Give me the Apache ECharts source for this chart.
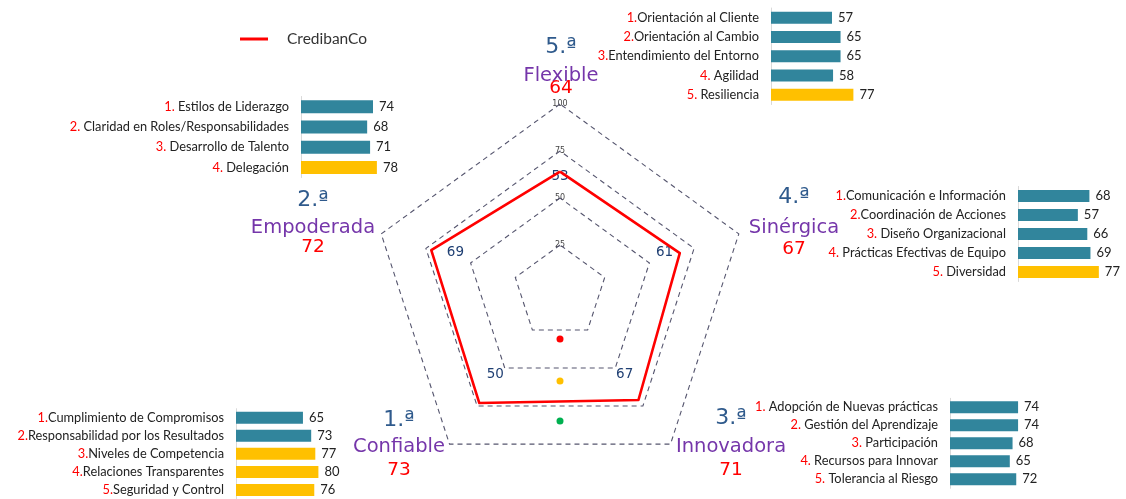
<!DOCTYPE html>
<html>
<head>
<meta charset="utf-8">
<script src="https://cdn.jsdelivr.net/npm/echarts@6/dist/echarts.min.js"></script>
<style>
  html, body { margin: 0; padding: 0; background: #ffffff; }
  #chart { width: 1126px; height: 499px; }
</style>
</head>
<body>
<div id="chart"></div>
<script>
// Radar dimensions, in the order ECharts lays them out (top, then counter-clockwise)
const dimensions = ['Flexible', 'Empoderada', 'Confiable', 'Innovadora', 'Sinérgica'];
const ordinals = ['5.ª', '2.ª', '1.ª', '3.ª', '4.ª'];
const scores = [64, 72, 73, 71, 67];          // CredibanCo
const reference = [53, 69, 50, 67, 61];       // reference figures shown inside the radar
const ringLabels = ['100', '75', '50', '25'];

// Sub-dimension bars for each dimension
const flexibleItems = ['1.Orientación al Cliente', '2.Orientación al Cambio', '3.Entendimiento del Entorno', '4. Agilidad', '5. Resiliencia'];
const flexibleValues = [57, 65, 65, 58, 77];

const empoderadaItems = ['1. Estilos de Liderazgo', '2. Claridad en Roles/Responsabilidades', '3. Desarrollo de Talento', '4. Delegación'];
const empoderadaValues = [74, 68, 71, 78];

const sinergicaItems = ['1.Comunicación e Información', '2.Coordinación de Acciones', '3. Diseño Organizacional', '4. Prácticas Efectivas de Equipo', '5. Diversidad'];
const sinergicaValues = [68, 57, 66, 69, 77];

const confiableItems = ['1.Cumplimiento de Compromisos', '2.Responsabilidad por los Resultados', '3.Niveles de Competencia', '4.Relaciones Transparentes', '5.Seguridad y Control'];
const confiableValues = [65, 73, 77, 80, 76];

const innovadoraItems = ['1. Adopción de Nuevas prácticas', '2. Gestión del Aprendizaje', '3. Participación', '4. Recursos para Innovar', '5. Tolerancia al Riesgo'];
const innovadoraValues = [74, 74, 68, 65, 72];

const TEAL = '#31859C';
const GOLD = '#FFC000';
const HIGHLIGHT_FROM = 75;

const chart = echarts.init(document.getElementById('chart'));

const RADAR_CENTER = [560, 292];
const RADAR_RADIUS = 188;

// bar blocks: grid placement for each dimension's breakdown
const blocks = [
  { items: flexibleItems,   values: flexibleValues,   left: 771,  top: 8,     height: 96.5, width: 107,  barWidth: 12 },
  { items: empoderadaItems, values: empoderadaValues, left: 301,  top: 96.5,  height: 81,   width: 97.3, barWidth: 13 },
  { items: sinergicaItems,  values: sinergicaValues,  left: 1018, top: 186.5, height: 95,   width: 105,  barWidth: 12 },
  { items: confiableItems,  values: confiableValues,  left: 236,  top: 408.7, height: 92.5, width: 103,  barWidth: 12 },
  { items: innovadoraItems, values: innovadoraValues, left: 950,  top: 398.3, height: 90,   width: 92,   barWidth: 12 }
];

const labelFont = 'Lato, "Liberation Sans", Arial, sans-serif';

const grids = [], xAxes = [], yAxes = [], barSeries = [];
blocks.forEach((b, i) => {
  grids.push({ left: b.left, top: b.top, width: b.width, height: b.height, containLabel: false });
  xAxes.push({ gridIndex: i, type: 'value', min: 0, max: 100, show: false });
  yAxes.push({
    gridIndex: i, type: 'category', inverse: true, data: b.items,
    axisLine: { show: true, lineStyle: { color: '#d9d9d9', width: 1 } },
    axisTick: { show: false },
    axisLabel: {
      margin: 12,
      formatter: function (s) {
        const m = s.match(/^(\d+\.)(.*)$/);
        return '{n|' + m[1] + '}{t|' + m[2] + '}';
      },
      rich: {
        n: { color: '#ff0000', fontSize: 12.8, fontFamily: labelFont },
        t: { color: '#222222', fontSize: 12.8, fontFamily: labelFont }
      }
    }
  });
  barSeries.push({
    type: 'bar', xAxisIndex: i, yAxisIndex: i, data: b.values, barWidth: b.barWidth,
    itemStyle: { color: p => (p.value >= HIGHLIGHT_FROM ? GOLD : TEAL) },
    label: { show: true, position: 'right', distance: 6, color: '#222222', fontSize: 13, fontFamily: labelFont },
    silent: true, animation: false
  });
});

// text placed around the radar: ordinal, dimension name, score
const namePlacement = [
  { x: 561, y: [47, 76, 88.5] },
  { x: 313, y: [200, 228, 247] },
  { x: 399, y: [420, 447, 470.5] },
  { x: 731, y: [418, 447, 470.5] },
  { x: 794, y: [197, 228, 249] }
];
const graphics = [];
dimensions.forEach((d, i) => {
  const p = namePlacement[i];
  graphics.push(
    { type: 'text', x: p.x, y: p.y[0], style: { text: ordinals[i], fill: '#2F5A8C', font: '22px "DejaVu Sans"', textAlign: 'center', textVerticalAlign: 'middle' } },
    { type: 'text', x: p.x, y: p.y[1], style: { text: d, fill: '#7536AA', font: '19.5px "DejaVu Sans"', textAlign: 'center', textVerticalAlign: 'middle' } },
    { type: 'text', x: p.x, y: p.y[2], style: { text: String(scores[i]), fill: '#ff0000', font: '18.5px "DejaVu Sans"', textAlign: 'center', textVerticalAlign: 'middle' } }
  );
});

// reference figures along each spoke
const refCenter = [RADAR_CENTER[0], RADAR_CENTER[1] - 6];
const refRadius = 110;
reference.forEach((v, i) => {
  const ang = Math.PI / 2 + i * 2 * Math.PI / dimensions.length;
  graphics.push({
    type: 'text',
    x: refCenter[0] + refRadius * Math.cos(ang),
    y: refCenter[1] - refRadius * Math.sin(ang),
    style: { text: String(v), fill: '#1F3F73', font: '13.5px "DejaVu Sans"', textAlign: 'center', textVerticalAlign: 'middle' }
  });
});

// ring values on the top spoke
ringLabels.forEach(t => {
  graphics.push({
    type: 'text', x: RADAR_CENTER[0], y: RADAR_CENTER[1] - RADAR_RADIUS * Number(t) / 100,
    style: { text: t, fill: '#444444', font: '8px "DejaVu Sans"', textAlign: 'center', textVerticalAlign: 'middle' }
  });
});

// traffic-light markers below the centre
[['#ff0000', 47], ['#FFC000', 89], ['#00B050', 129]].forEach(([c, dy]) => {
  graphics.push({ type: 'circle', shape: { cx: RADAR_CENTER[0], cy: RADAR_CENTER[1] + dy, r: 3.5 }, style: { fill: c } });
});

chart.setOption({
  animation: false,
  backgroundColor: '#ffffff',
  legend: {
    left: 240, top: 31, padding: 0,
    data: ['CredibanCo'],
    icon: 'rect', itemWidth: 28, itemHeight: 3,
    textStyle: { color: '#333333', fontSize: 15.5, fontFamily: labelFont, padding: [0, 0, 0, 14] }
  },
  radar: {
    center: RADAR_CENTER,
    radius: RADAR_RADIUS,
    shape: 'polygon',
    splitNumber: 4,
    indicator: dimensions.map(d => ({ name: d, min: 0, max: 100 })),
    axisName: { show: false },
    axisLine: { show: false },
    axisTick: { show: false },
    axisLabel: { show: false },
    splitArea: { show: false },
    splitLine: { lineStyle: { color: '#55556e', width: 1.1, type: [5, 4] } }
  },
  grid: grids,
  xAxis: xAxes,
  yAxis: yAxes,
  series: [
    {
      name: 'CredibanCo',
      type: 'radar',
      symbol: 'none',
      lineStyle: { color: '#ff0000', width: 2.6 },
      itemStyle: { color: '#ff0000' },
      data: [{ value: scores, name: 'CredibanCo' }]
    }
  ].concat(barSeries),
  graphic: graphics
});
</script>
</body>
</html>
